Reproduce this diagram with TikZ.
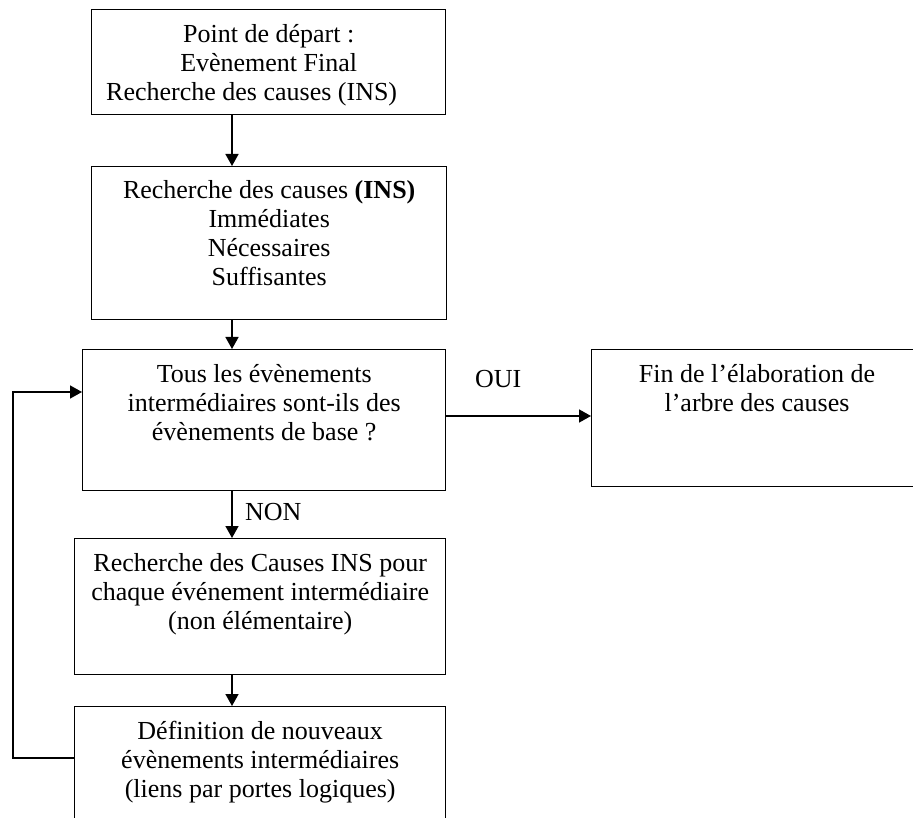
\documentclass[tikz,border=0pt]{standalone}
\usepackage{fontspec}
\setmainfont{Liberation Serif}
\usetikzlibrary{arrows.meta}
\begin{document}
\begin{tikzpicture}[x=1pt,y=-1pt,
  box/.style={draw,line width=1.4pt,anchor=north west,inner sep=0pt},
  txt/.style={anchor=north,inner sep=0pt,align=center,font=\fontsize{26}{29}\selectfont},
  lbl/.style={inner sep=0pt,font=\fontsize{26}{29}\selectfont},
  arr/.style={line width=1.6pt,-{Triangle[length=12pt,width=13pt]}}]
\useasboundingbox (0,0) rectangle (913,818);
\clip (0,0) rectangle (913,818);
% boxes
\node[box,minimum width=354pt,minimum height=105pt] (b1) at (91,9) {};
\node[box,minimum width=355pt,minimum height=153pt] (b2) at (91,166) {};
\node[box,minimum width=363pt,minimum height=141pt] (b3) at (82,349) {};
\node[box,minimum width=340pt,minimum height=137pt] (b4) at (591,349) {};
\node[box,minimum width=371pt,minimum height=136pt] (b5) at (74,538) {};
\node[box,minimum width=371pt,minimum height=140pt] (b6) at (74,706) {};
% texts
\node[txt] (t1) at ([yshift=-13pt]b1.north) {\rule{0pt}{20pt}Point de départ :\\Evènement Final\\Recherche des causes (INS)\hspace*{34pt}};
\node[txt] (t2) at ([yshift=-12pt]b2.north) {\rule{0pt}{20pt}Recherche des causes \textbf{(INS)}\\Immédiates\\Nécessaires\\Suffisantes};
\node[txt] (t3) at ([yshift=-13pt]b3.north) {\rule{0pt}{20pt}Tous les évènements\\intermédiaires sont-ils des\\évènements de base ?};
\node[txt] (t4) at ([xshift=166pt,yshift=-13pt]b4.north west) {\rule{0pt}{20pt}Fin de l’élaboration de\\l’arbre des causes};
\node[txt] (t5) at ([yshift=-13pt]b5.north) {\rule{0pt}{20pt}Recherche des Causes INS pour\\chaque événement intermédiaire\\(non élémentaire)};
\node[txt] (t6) at ([yshift=-13pt]b6.north) {\rule{0pt}{20pt}Définition de nouveaux\\évènements intermédiaires\\(liens par portes logiques)};
% labels
\node[lbl,anchor=base west] (oui) at (475,387) {OUI};
\node[lbl,anchor=base west] (non) at (245,520) {NON};
% connectors
\coordinate (ax) at (232,0);
\draw[arr] (b1.south -| ax) -- (b2.north -| ax);
\draw[arr] (b2.south -| ax) -- (b3.north -| ax);
\draw[arr] (b3.south -| ax) -- (b5.north -| ax);
\draw[arr] (b5.south -| ax) -- (b6.north -| ax);
\coordinate (oy) at (0,416);
\draw[arr] (oy -| b3.east) -- (oy -| b4.west);
\coordinate (lb) at (13,758);
\coordinate (lt) at (13,392);
\draw[arr] (lb -| b6.west) -- (lb) -- (lt) -- (lt -| b3.west);
\end{tikzpicture}
\end{document}
